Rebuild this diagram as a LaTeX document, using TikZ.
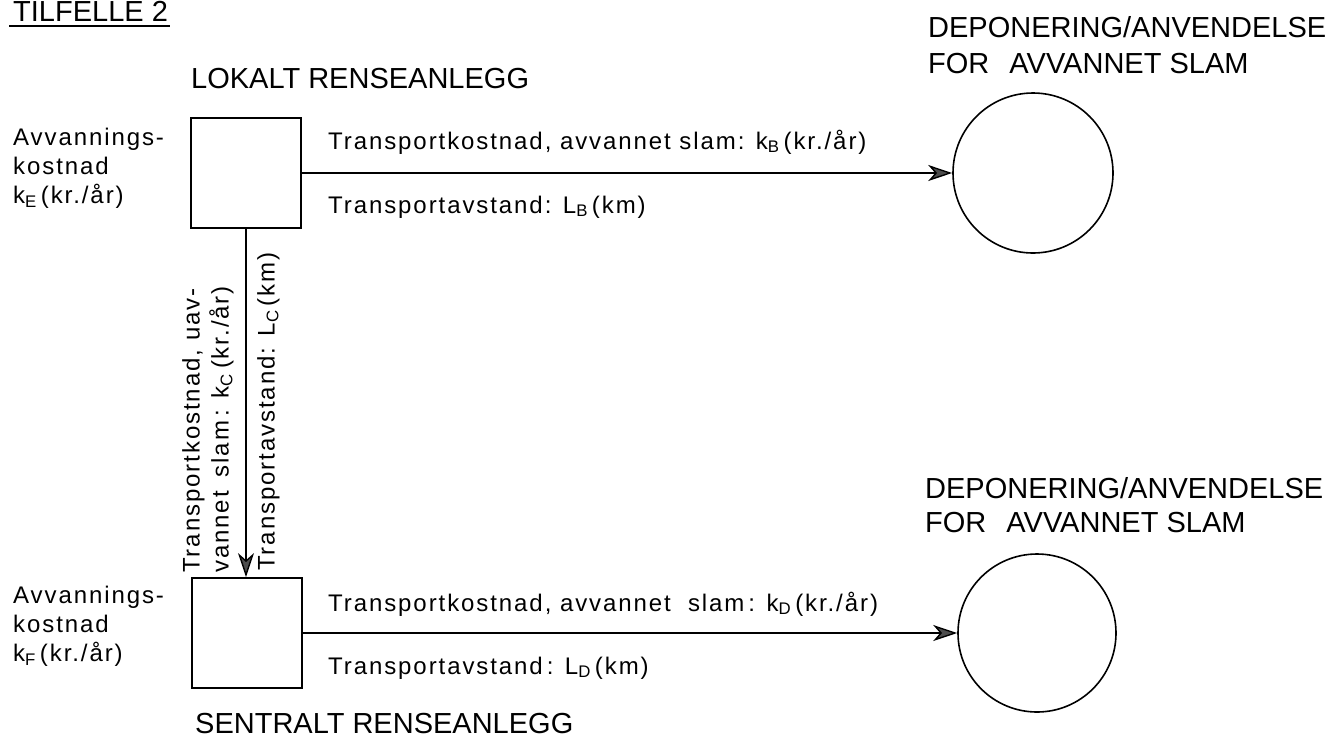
\documentclass[tikz,border=0pt]{standalone}
\usepackage{fontspec}
\setmainfont{Liberation Sans}
\newfontfamily\labelfont[LetterSpace=8]{Liberation Sans}
\usetikzlibrary{positioning, arrows.meta}
\tikzset{
    anlegg/.style={draw, line width=1.8pt, minimum size=110pt, inner sep=0pt},
    deponi/.style={circle, draw, line width=1.6pt, minimum size=160pt, inner sep=0pt},
    flow/.style={line width=1.4pt, -{Stealth[length=24pt, width=16pt, inset=7pt, fill=black!70]}},
    heading/.style={inner sep=0pt, font=\fontsize{29}{34}\selectfont},
    lbl/.style={inner sep=0pt, align=left, font=\fontsize{24}{29}\labelfont}
}
\begin{document}
\begin{tikzpicture}[x=1pt, y=-1pt]
                \useasboundingbox (0,0) rectangle (1328,740);
                \node[heading, anchor=base west] (tilfelle) at (13,21) {TILFELLE 2};
                \draw[line width=1.6pt] ([xshift=-4pt, yshift=-5pt]tilfelle.base west) -- ([xshift=2pt, yshift=-5pt]tilfelle.base east);

                \node[anlegg] (lokalt) at (246,173) {};
                \node[anlegg] (sentralt) at (247,633) {};
                \node[deponi] (depB) at (1033,173) {};
                \node[deponi, minimum size=158pt] (depD) at (1037,633) {};

                \node[heading, anchor=base west] (lokaltnavn) at (191,88) {LOKALT RENSEANLEGG};
                \node[heading, anchor=base west] (sentraltnavn) at (195,733) {SENTRALT RENSEANLEGG};
                \node[heading, anchor=base west] (depBnavn) at (928,37) {DEPONERING/ANVENDELSE};
                \node[heading, anchor=base west] (depBslam) at (928,73) {FOR\hspace{12pt} AVVANNET SLAM};
                \node[heading, anchor=base west] (depDnavn) at (925,498) {DEPONERING/ANVENDELSE};
                \node[heading, anchor=base west] (depDslam) at (925,532) {FOR\hspace{12pt} AVVANNET SLAM};

                \node[lbl, anchor=north west] (kE) at (13,128) {Avvannings-\\kostnad\\k\textsubscript{E}\,(kr./år)};
                \node[lbl, anchor=north west] (kF) at (13,586) {Avvannings-\\kostnad\\k\textsubscript{F}\,(kr./år)};

                \draw[flow] (lokalt.east) -- (depB.west);
                \draw[flow] (sentralt.east) -- (depD.west);
                \draw[flow] (lokalt.south) -- (lokalt.south |- sentralt.north);

                \node[lbl, anchor=base west] (kB) at (328,149) {Transportkostnad, avvannet slam: k\textsubscript{B}\,(kr./år)};
                \node[lbl, anchor=base west] (LB) at (328,213) {Transportavstand: L\textsubscript{B}\,(km)};
                \node[lbl, anchor=base west] (kD) at (328,611) {Transportkostnad, avvannet\ \ slam\,: k\textsubscript{D}\,(kr./år)};
                \node[lbl, anchor=base west] (LD) at (328,674) {Transportavstand\,: L\textsubscript{D}\,(km)};

                \node[lbl, rotate=90, anchor=north west] (kC) at (182,573) {Transportkostnad, uav-\\vannet\hspace{14pt}slam\,: k\textsubscript{C}\hspace{5pt}(kr./år)};
                \node[lbl, rotate=90, anchor=north west] (LC) at (257,571) {Transportavstand: L\textsubscript{C}\,(km)};
            \end{tikzpicture}
\end{document}
